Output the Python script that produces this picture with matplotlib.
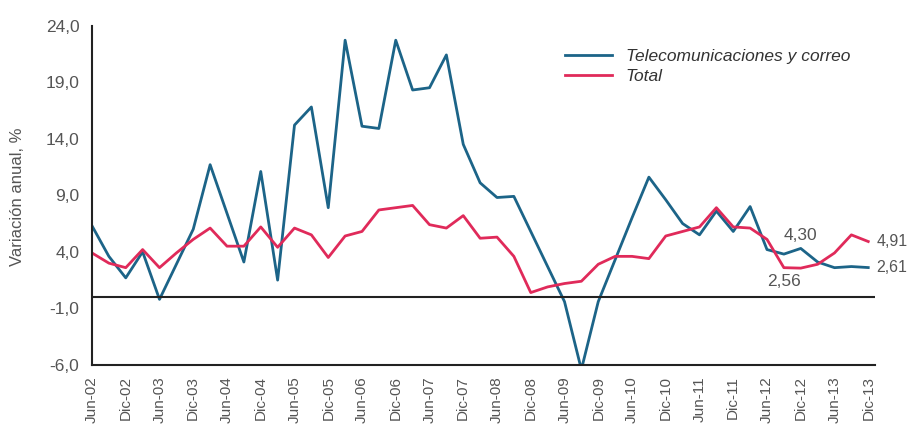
import matplotlib
matplotlib.use("Agg")
import matplotlib.pyplot as plt
import numpy as np

plt.rcParams['font.family'] = ['Liberation Sans', 'DejaVu Sans']

# === Daten (trimestral, Jun-02 .. Dic-13) ===
telecom = [6.3, 3.6, 1.7, 4.0, -0.2, 2.9, 6.0, 11.7, 7.4, 3.1, 11.1, 1.5,
           15.2, 16.8, 7.9, 22.7, 15.1, 14.9, 22.7, 18.3, 18.5, 21.4, 13.5, 10.1,
           8.8, 8.9, 5.8, 2.7, -0.4, -6.4, -0.4, 3.3, 7.0, 10.6, 8.6, 6.5,
           5.5, 7.6, 5.8, 8.0, 4.2, 3.8, 4.30, 3.1, 2.6, 2.7, 2.61]
total = [3.9, 3.0, 2.6, 4.2, 2.6, 3.9, 5.1, 6.1, 4.5, 4.5, 6.2, 4.4,
         6.1, 5.5, 3.5, 5.4, 5.8, 7.7, 7.9, 8.1, 6.4, 6.1, 7.2, 5.2,
         5.3, 3.6, 0.4, 0.9, 1.2, 1.4, 2.9, 3.6, 3.6, 3.4, 5.4, 5.8,
         6.2, 7.9, 6.2, 6.1, 5.1, 2.6, 2.56, 2.9, 3.9, 5.5, 4.91]

etiquetas = []
for anio in range(2, 14):
    if anio > 2:
        etiquetas.append(f"Dic-{anio - 1:02d}")
    etiquetas.append(f"Jun-{anio:02d}")
etiquetas.append("Dic-13")

y_ticks = [24.0, 19.0, 14.0, 9.0, 4.0, -1.0, -6.0]

azul = "#1c6488"
rojo = "#e02a5a"
gris = "#555555"
fs = 12.5

x = np.arange(len(telecom))

fig = plt.figure(figsize=(9.09, 4.28), dpi=100)
ax = fig.add_axes([92 / 909, 1 - 365 / 428, (875 - 92) / 909, (365 - 25.5) / 428])

ax.plot(x, telecom, color=azul, lw=2, label="Telecomunicaciones y correo")
ax.plot(x, total, color=rojo, lw=2, label="Total")
ax.axhline(0, color="#222222", lw=1.5)

ax.set_xlim(0, 46.4)
ax.set_ylim(-6, 24)

ax.set_yticks(y_ticks)
ax.set_yticklabels([f"{v:.1f}".replace(".", ",") for v in y_ticks], color=gris, fontsize=fs)
ax.set_xticks(np.arange(0, len(telecom), 2))
ax.set_xticklabels(etiquetas, rotation=90, color=gris, fontsize=11, va="top")
ax.tick_params(axis="y", length=0, pad=9)
ax.tick_params(axis="x", length=0, pad=8)

for s in ["top", "right"]:
    ax.spines[s].set_visible(False)
for s in ["left", "bottom"]:
    ax.spines[s].set_color("#222222")
    ax.spines[s].set_linewidth(1.5)

ax.set_ylabel("Variación anual, %", color=gris, fontsize=12)
ax.yaxis.set_label_coords(-0.086, 0.495)

# Werte annotieren
ax.text(42, telecom[42] + 1.1, "4,30", color=gris, fontsize=fs, ha="center", va="center")
ax.text(41, total[41] - 0.6, "2,56", color=gris, fontsize=fs, ha="center", va="top")
ax.text(46.5, total[-1], "4,91", color=gris, fontsize=11.5, ha="left", va="center")
ax.text(46.5, telecom[-1], "2,61", color=gris, fontsize=11.5, ha="left", va="center")

leg = ax.legend(loc="upper left", bbox_to_anchor=(0.595, 0.951), frameon=False,
                handlelength=2.7, labelspacing=0.25, fontsize=fs, borderaxespad=0)
for t in leg.get_texts():
    t.set_style("italic")
    t.set_color("#333333")

fig.savefig("out.png", dpi=100)
